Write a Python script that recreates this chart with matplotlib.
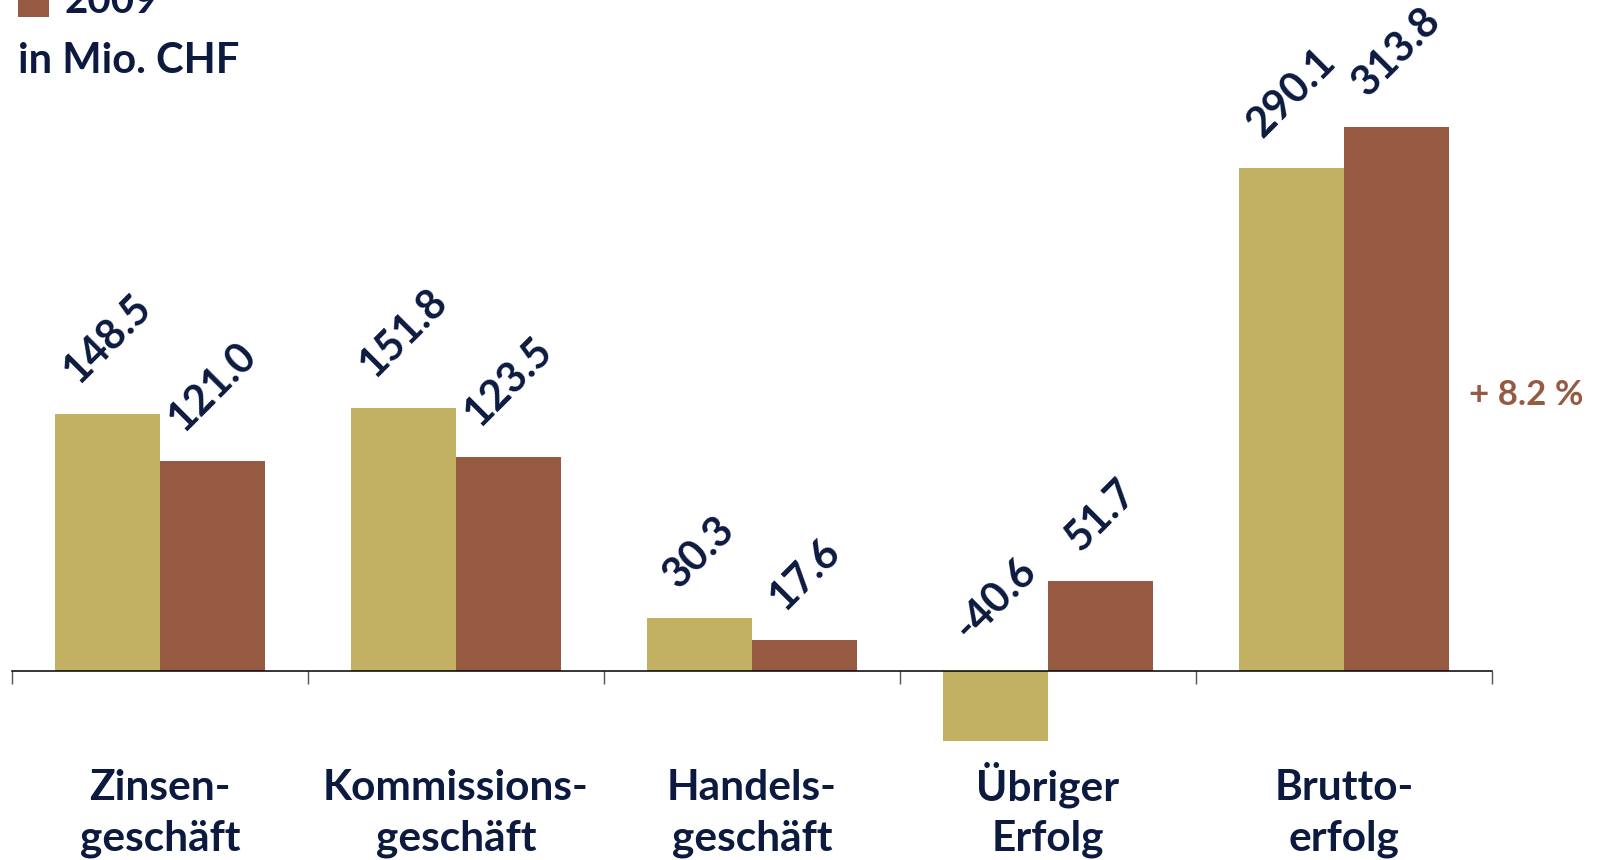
import matplotlib
matplotlib.use("Agg")
import matplotlib.pyplot as plt
from matplotlib.patches import Rectangle
import numpy as np

plt.rcParams['font.family'] = ['Lato', 'DejaVu Sans']

categories = ["Zinsen-\ngeschäft", "Kommissions-\ngeschäft", "Handels-\ngeschäft",
              "Übriger\nErfolg", "Brutto-\nerfolg"]
values_2010 = [148.5, 151.8, 30.3, -40.6, 290.1]
values_2009 = [121.0, 123.5, 17.6, 51.7, 313.8]
series_labels = ["2010", "2009"]
change_text = "+ 8.2 %"
unit_text = "in Mio. CHF"

GOLD = "#C3B163"
BROWN = "#965A43"
NAVY = "#0C1A40"

W, H = 1612, 860
fig = plt.figure(figsize=(W / 100, H / 100), dpi=100)
ax = fig.add_axes([12 / W, 0, (1492 - 12) / W, 1])

x = np.arange(len(categories))
bw = 0.356
ax.bar(x - bw / 2, values_2010, width=bw, color=GOLD, linewidth=0, zorder=2)
ax.bar(x + bw / 2, values_2009, width=bw, color=BROWN, linewidth=0, zorder=2)

ax.set_xlim(-0.5, len(categories) - 0.5)
ax.set_ylim(-109, 387)

for s in ['top', 'right', 'left']:
    ax.spines[s].set_visible(False)
ax.spines['bottom'].set_position(('data', 0))
ax.spines['bottom'].set_linewidth(1.1)
ax.spines['bottom'].set_color('black')
ax.set_yticks([])
ax.set_xticks(np.arange(-0.5, len(categories), 1.0))
ax.set_xticklabels([])
ax.tick_params(axis='x', direction='out', length=9, width=1.0, color='#555555')

for xs, vals in ((x - bw / 2, values_2010), (x + bw / 2, values_2009)):
    for xi, v in zip(xs, vals):
        ax.annotate(f"{v:.1f}", xy=(xi, max(v, 0)), xytext=(0, 17),
                    textcoords='offset points', rotation=45, ha='center',
                    va='bottom', fontsize=30, fontweight='bold', color=NAVY)

tr = ax.get_xaxis_transform()
for xi, cat in zip(x, categories):
    l1, l2 = cat.split("\n")
    ax.text(xi, 60 / H, l1, transform=tr, ha='center', va='baseline',
            fontsize=30.5, fontweight='bold', color=NAVY)
    ax.text(xi, 9 / H, l2, transform=tr, ha='center', va='baseline',
            fontsize=30.5, fontweight='bold', color=NAVY)

fig.text(1469 / W, (H - 405) / H, change_text, ha='left', va='baseline',
         fontsize=25, fontweight='bold', color=BROWN)

fig.patches.append(Rectangle((18 / W, (H - 16.7) / H), 31 / W, 40 / H,
                             transform=fig.transFigure, color=BROWN, linewidth=0))
fig.text(65 / W, (H - 13) / H, series_labels[1], ha='left', va='baseline',
         fontsize=29, fontweight='bold', color=NAVY)
fig.text(18 / W, (H - 73) / H, unit_text, ha='left', va='baseline',
         fontsize=30, fontweight='bold', color=NAVY)

fig.savefig("out.png", dpi=100)
